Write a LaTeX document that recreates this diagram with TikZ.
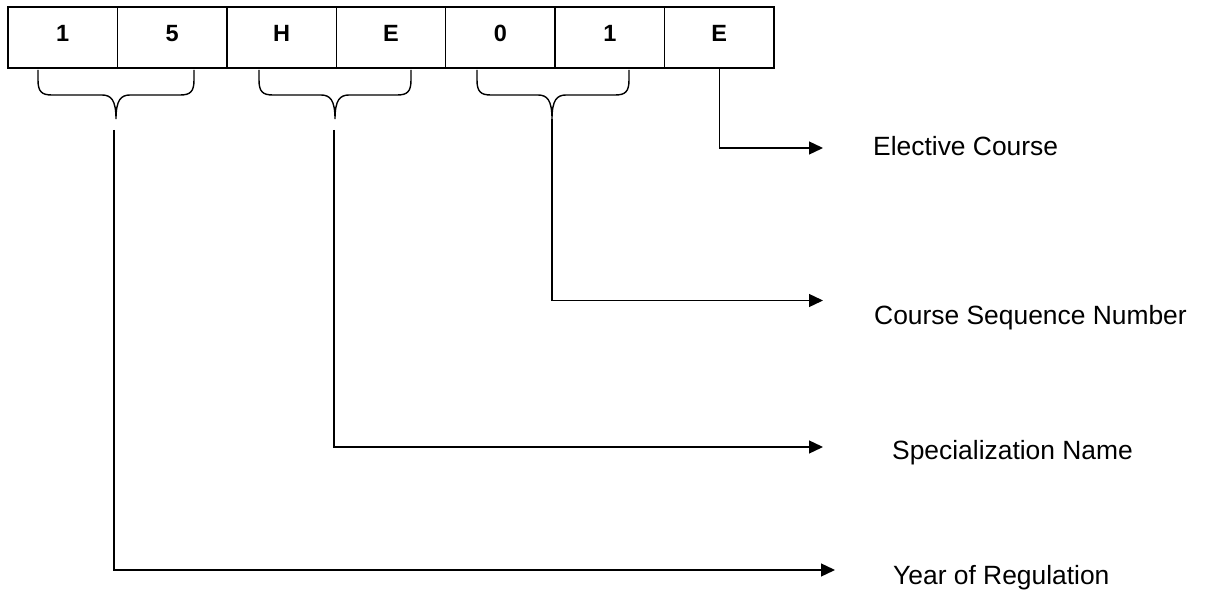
\documentclass[tikz,border=0pt]{standalone}
\usepackage{fontspec}
\setmainfont{Liberation Sans}
\usetikzlibrary{arrows.meta}
\tikzset{
  cell/.style={draw, line width=1.5pt, minimum width=109.43pt, minimum height=61pt,
    inner sep=0pt, font=\fontsize{23.5}{28}\selectfont\bfseries, text height=16.7pt, text depth=9pt},
  lbl/.style={anchor=base west, inner sep=0pt, font=\fontsize{26.4}{32}\selectfont},
  conn/.style={line width=1.3pt},
  arr/.style={line width=1.3pt, -{Triangle[length=14pt,width=13pt]}},
  brc/.style={line width=1.4pt}
}
\newcommand{\mybrace}[3]{%
  \draw[brc] (#1,70) -- (#1,80) .. controls (#1,92) and ({#1+4},95) .. ({#1+14},95)
    -- ({#2-14},95) .. controls ({#2-5},95) and (#2,100) .. (#2,119)
    .. controls (#2,100) and ({#2+5},95) .. ({#2+14},95)
    -- ({#3-14},95) .. controls ({#3-4},95) and (#3,92) .. (#3,80) -- (#3,70);}
\begin{document}
\begin{tikzpicture}[x=1pt,y=-1pt]
\useasboundingbox (0,0) rectangle (1219,593);
% cells
\node[cell] (c1) at (62.7,37.5) {1};
\node[cell] (c2) at (172.1,37.5) {5};
\node[cell] (c3) at (281.6,37.5) {H};
\node[cell] (c4) at (391.0,37.5) {E};
\node[cell] (c5) at (500.4,37.5) {0};
\node[cell] (c6) at (609.9,37.5) {1};
\node[cell] (c7) at (719.3,37.5) {E};
% braces
\mybrace{38}{116}{194}
\mybrace{259}{335}{411}
\mybrace{477}{552}{629}
% coordinates
\coordinate (s1) at (114,130);
\coordinate (s2) at (334,130);
\coordinate (s3) at (552,119);
\coordinate (a1) at (823,148);
\coordinate (a2) at (823,300.5);
\coordinate (a3) at (823,447);
\coordinate (a4) at (835,570);
% labels
\node[lbl] (l1) at (873,156) {Elective Course};
\node[lbl] (l2) at (874,325) {Course Sequence Number};
\node[lbl] (l3) at (892,460) {Specialization Name};
\node[lbl] (l4) at (893,584) {Year of Regulation};
% connectors
\draw[arr] (c7.south) |- (a1);
\draw[arr] (s3) |- (a2);
\draw[arr] (s2) |- (a3);
\draw[arr] (s1) |- (a4);
\end{tikzpicture}
\end{document}
